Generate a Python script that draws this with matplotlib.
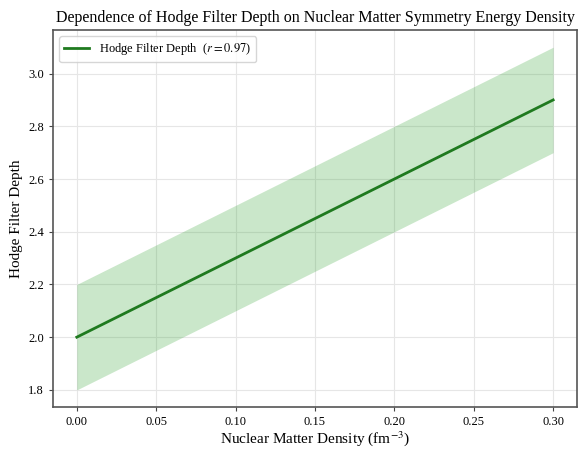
import numpy as np
import matplotlib
matplotlib.use("Agg")
import matplotlib.pyplot as plt

plt.rcParams['font.family'] = ['Liberation Serif', 'DejaVu Serif']
plt.rcParams['mathtext.fontset'] = 'stix'

density = [0.0, 0.30]
depth = [2.0, 2.9]
band_lower = [1.8, 2.7]
band_upper = [2.2, 3.1]
r_value = 0.97

fig = plt.figure(figsize=(5.79, 4.49), dpi=100)
ax = fig.add_axes([0.0915, 0.0935, 0.905, 0.8395])

ax.fill_between(density, band_lower, band_upper, color='#2ca02c', alpha=0.25, linewidth=0)
ax.plot(density, depth, color='#1f7a1f', linewidth=2, label=f'Hodge Filter Depth  ($r = {r_value:.2f}$)')

ax.set_xticks([0.0, 0.05, 0.10, 0.15, 0.20, 0.25, 0.30])
ax.set_yticks([1.8, 2.0, 2.2, 2.4, 2.6, 2.8, 3.0])
ax.xaxis.set_major_formatter(matplotlib.ticker.FormatStrFormatter('%.2f'))
ax.yaxis.set_major_formatter(matplotlib.ticker.FormatStrFormatter('%.1f'))
ax.grid(True, color='#e6e6e6', linewidth=0.8)
ax.set_axisbelow(True)
ax.tick_params(labelsize=9, length=3, color='#444444')
for s in ax.spines.values():
    s.set_color('#555555')
    s.set_linewidth(1.2)

ax.set_xlabel('Nuclear Matter Density (fm$^{-3}$)', fontsize=11, labelpad=1)
ax.set_ylabel('Hodge Filter Depth', fontsize=11)
ax.set_title('Dependence of Hodge Filter Depth on Nuclear Matter Symmetry Energy Density', fontsize=11.5)
ax.legend(loc='upper left', fontsize=9, frameon=True, edgecolor='#cccccc')

fig.savefig('out.png', dpi=100)
